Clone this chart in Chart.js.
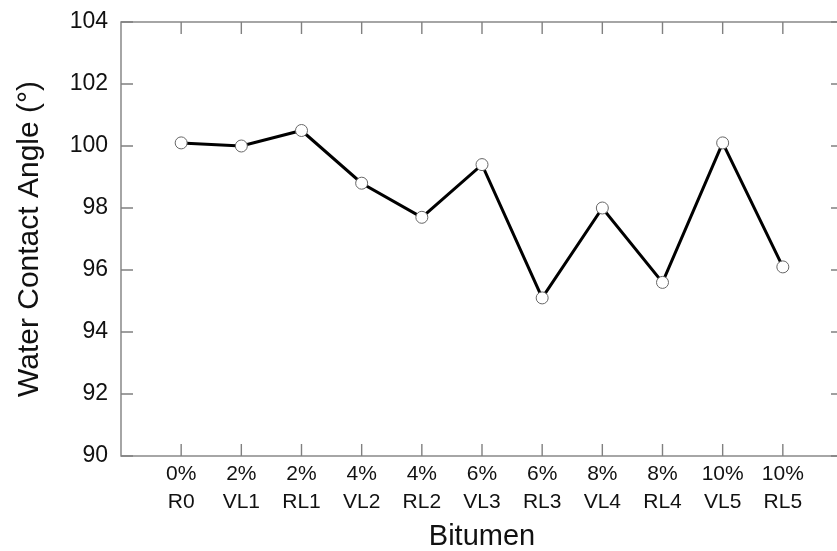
<!DOCTYPE html>
<html>
<head>
<meta charset="utf-8">
<script src="https://cdn.jsdelivr.net/npm/chart.js@4"></script>
<style>
  html, body { margin: 0; padding: 0; background: #fff; overflow: hidden; }
  /* The plot box runs a few pixels past the right edge of the window, as in the picture. */
  #wrap { width: 843px; height: 551px; }
</style>
</head>
<body>
<div id="wrap"><canvas id="chart"></canvas></div>
<script>
/* Category labels, two lines each. */
const percentLabels = ["0%", "2%", "2%", "4%", "4%", "6%", "6%", "8%", "8%", "10%", "10%"]
const sampleLabels = ["R0", "VL1", "RL1", "VL2", "RL2", "VL3", "RL3", "VL4", "RL4", "VL5", "RL5"]

/* Water contact angle. */
const contactAngle = [100.1, 100.0, 100.5, 98.8, 97.7, 99.4, 95.1, 98.0, 95.6, 100.1, 96.1]

/* Y axis tick values. */
const yTicks = [90, 92, 94, 96, 98, 100, 102, 104]

const points = contactAngle.map((v, i) => ({ x: i, y: v }))
const fontFamily = "'Liberation Sans', Arial, sans-serif"

/* Draw the box and inward tick marks. */
const framePlugin = {
  id: "frame",
  afterDraw(chart) {
    const { ctx, chartArea: a, scales } = chart
    const len = 12
    ctx.save()
    ctx.strokeStyle = "#808080"
    ctx.lineWidth = 1.4
    ctx.strokeRect(a.left, a.top, a.right - a.left, a.bottom - a.top)
    ctx.beginPath()
    percentLabels.forEach((_, i) => {
      const x = scales.x.getPixelForValue(i)
      ctx.moveTo(x, a.bottom)
      ctx.lineTo(x, a.bottom - len)
      ctx.moveTo(x, a.top)
      ctx.lineTo(x, a.top + len)
    })
    yTicks.forEach(v => {
      const y = scales.y.getPixelForValue(v)
      ctx.moveTo(a.left, y)
      ctx.lineTo(a.left + len, y)
      ctx.moveTo(a.right, y)
      ctx.lineTo(a.right - len, y)
    })
    ctx.stroke()
    ctx.restore()
  }
}

const ctx = document.getElementById("chart").getContext("2d")
const chart = new Chart(ctx, {
  type: "line",
  data: {
    datasets: [{
      data: points,
      borderColor: "#000",
      borderWidth: 3,
      pointRadius: 6,
      pointBackgroundColor: "#fff",
      pointBorderColor: "#666",
      pointBorderWidth: 1,
      tension: 0,
      clip: false
    }]
  },
  options: {
    responsive: true,
    maintainAspectRatio: false,
    animation: false,
    layout: { autoPadding: false, padding: { top: 22, right: 0, left: 0, bottom: 0 } },
    plugins: {
      legend: { display: false },
      tooltip: { enabled: false }
    },
    scales: {
      x: {
        type: "linear",
        min: -1,
        max: 11,
        grid: { display: false, drawTicks: false },
        border: { display: false },
        afterBuildTicks: scale => {
          scale.ticks = percentLabels.map((_, i) => ({ value: i }))
        },
        afterFit: scale => {
          scale.height = 95
          scale.paddingLeft = 0
          scale.paddingRight = 0
        },
        ticks: {
          autoSkip: false,
          maxRotation: 0,
          padding: 4,
          color: "#111",
          font: { family: fontFamily, size: 21, lineHeight: 1.33 },
          callback: value => [percentLabels[value], sampleLabels[value]]
        },
        title: {
          display: true,
          text: "Bitumen",
          color: "#111",
          padding: { top: 0, bottom: 0 },
          font: { family: fontFamily, size: 29, lineHeight: 1.0 }
        }
      },
      y: {
        min: 90,
        max: 104,
        grid: { display: false, drawTicks: false },
        border: { display: false },
        afterBuildTicks: scale => {
          scale.ticks = yTicks.map(v => ({ value: v }))
        },
        afterFit: scale => {
          scale.width = 121
          scale.paddingTop = 0
          scale.paddingBottom = 0
        },
        ticks: {
          padding: 13,
          color: "#111",
          font: { family: fontFamily, size: 23 }
        },
        title: {
          display: true,
          text: "Water Contact Angle (°)",
          color: "#111",
          padding: { top: 12, bottom: 0 },
          font: { family: fontFamily, size: 30 }
        }
      }
    }
  },
  plugins: [framePlugin]
})
</script>
</body>
</html>
